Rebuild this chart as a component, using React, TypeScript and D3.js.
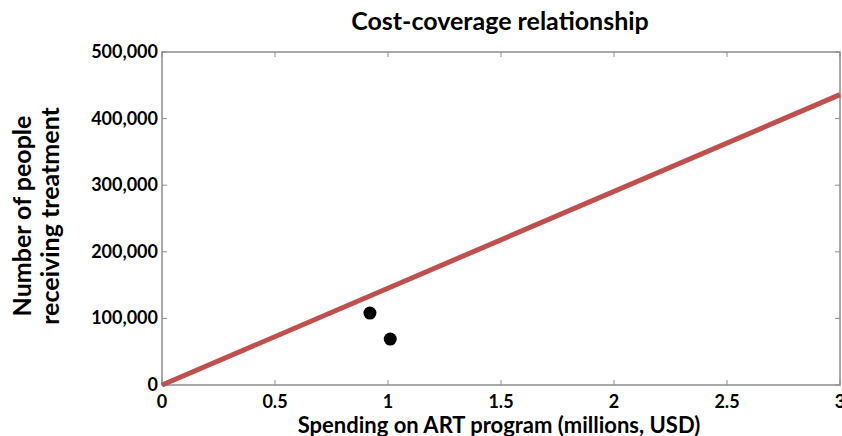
import React from "react";
import * as d3 from "d3";

const xTicks = [0, 0.5, 1, 1.5, 2, 2.5, 3];
const yTicks = [0, 100000, 200000, 300000, 400000, 500000];
const lineX = [0, 3];
const lineY = [0, 436000];
const pointX = [0.92, 1.01];
const pointY = [108000, 69000];

const W = 842, H = 436;
const m = { left: 162, right: 840, top: 52, bottom: 385 };
const FONT = "Lato, 'Open Sans', sans-serif";

export default function App() {
  const x = d3.scaleLinear().domain([0, 3]).range([m.left, m.right]);
  const y = d3.scaleLinear().domain([0, 500000]).range([m.bottom, m.top]);
  const fmt = d3.format(",");
  const line = d3.line<number>().x((d, i) => x(lineX[i])).y((d, i) => y(lineY[i]));
  const axisColor = "#8c8c8c";
  const tl = 5;
  return (
    <svg width={W} height={H} style={{ position: "absolute", left: 0, top: 0, background: "#fff" }}>
      <rect x={0} y={0} width={W} height={H} fill="#fff" />
      <text x={500} y={30} textAnchor="middle" fontFamily={FONT} fontWeight="bold" fontSize={25} fill="#000">
        Cost-coverage relationship
      </text>
      {xTicks.map((t) => (
        <g key={"x" + t}>
          <line x1={x(t)} x2={x(t)} y1={m.bottom} y2={m.bottom - tl} stroke={axisColor} />
          <line x1={x(t)} x2={x(t)} y1={m.top} y2={m.top + tl} stroke={axisColor} />
          <text x={x(t)} y={m.bottom + 23} textAnchor="middle" fontFamily={FONT} fontWeight="bold" fontSize={18} fill="#000">
            {String(t)}
          </text>
        </g>
      ))}
      {yTicks.map((t) => (
        <g key={"y" + t}>
          <line x1={m.left} x2={m.left + tl} y1={y(t)} y2={y(t)} stroke={axisColor} />
          <line x1={m.right} x2={m.right - tl} y1={y(t)} y2={y(t)} stroke={axisColor} />
          <text x={m.left - 4} y={y(t) + 6} textAnchor="end" fontFamily={FONT} fontWeight="bold" fontSize={18} fill="#000">
            {fmt(t)}
          </text>
        </g>
      ))}
      <rect x={m.left} y={m.top} width={m.right - m.left} height={m.bottom - m.top} fill="none" stroke={axisColor} strokeWidth={1.5} />
      <path d={line(lineX) || ""} stroke="#c0504d" strokeWidth={5} fill="none" />
      {pointX.map((px, i) => (
        <circle key={"p" + i} cx={x(px)} cy={y(pointY[i])} r={6.5} fill="#000" />
      ))}
      <text x={499} y={433} textAnchor="middle" fontFamily={FONT} fontWeight="bold" fontSize={22} fill="#000">
        Spending on ART program (millions, USD)
      </text>
      <text transform="translate(31,216) rotate(-90)" textAnchor="middle" fontFamily={FONT} fontWeight="bold" fontSize={25} fill="#000">
        Number of people
      </text>
      <text transform="translate(59,216) rotate(-90)" textAnchor="middle" fontFamily={FONT} fontWeight="bold" fontSize={25} fill="#000">
        receiving treatment
      </text>
    </svg>
  );
}
